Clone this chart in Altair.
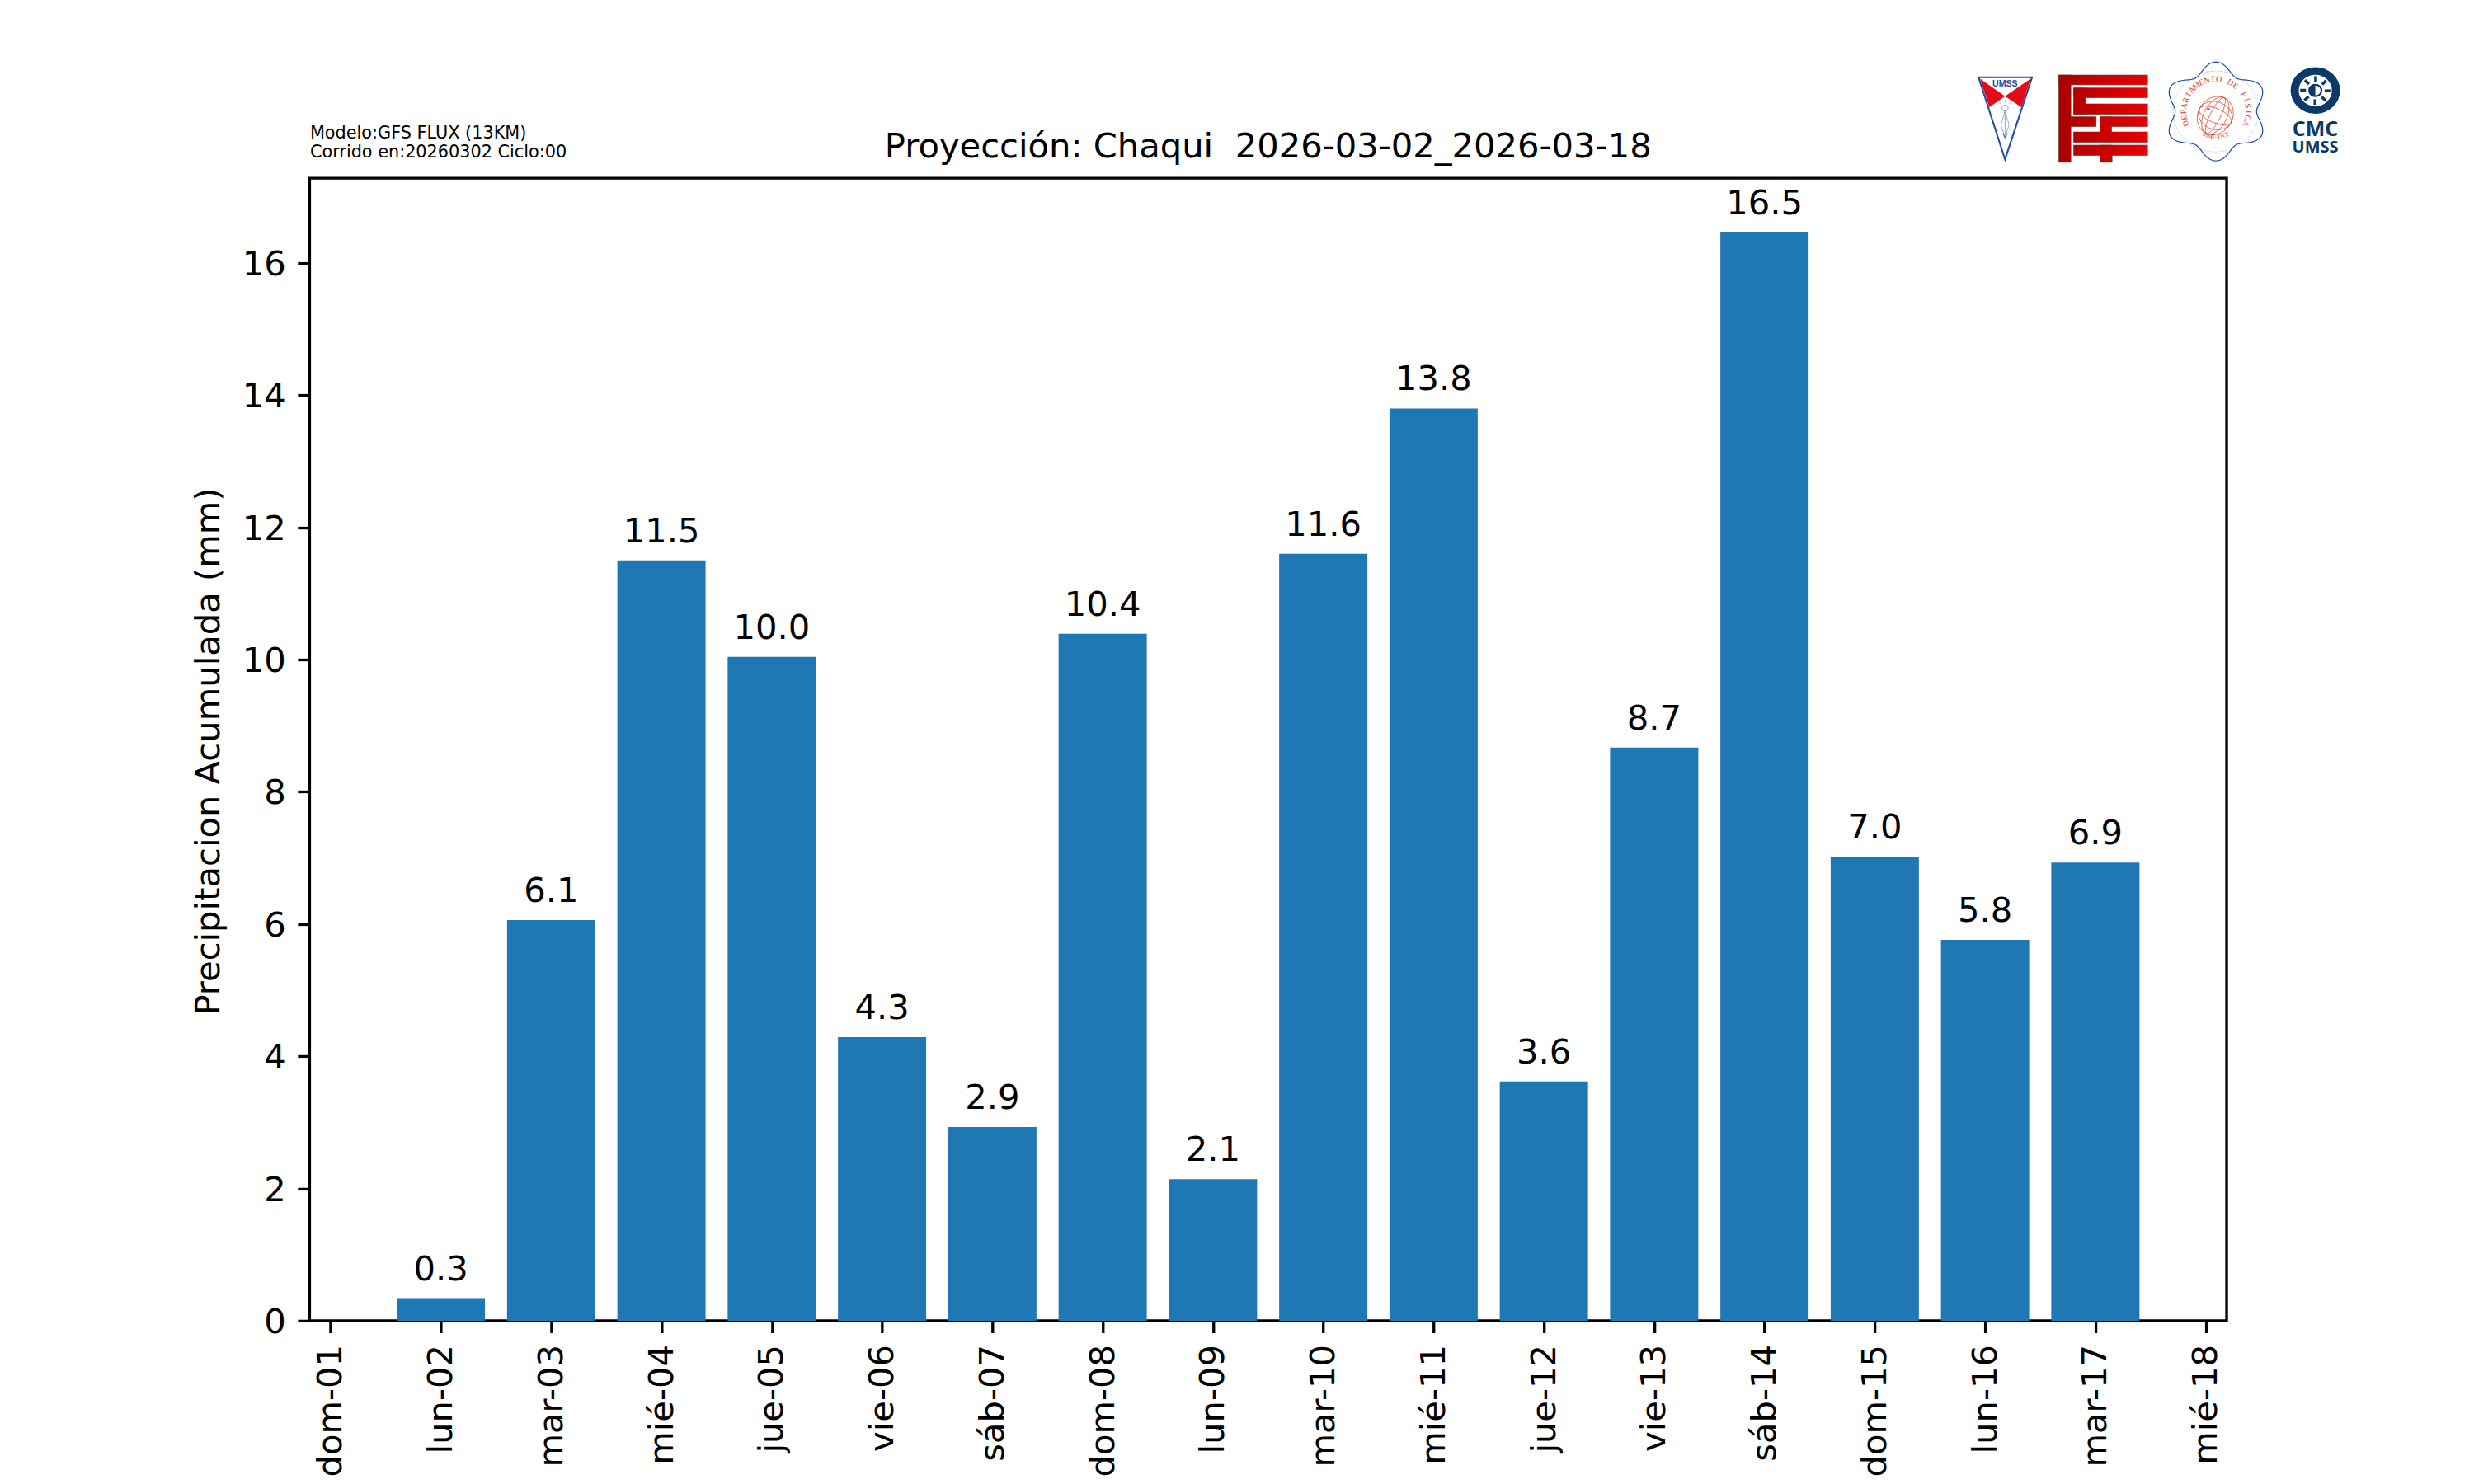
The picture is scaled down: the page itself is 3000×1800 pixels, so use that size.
import base64, json, math
import altair as alt
import pandas as pd

days = ["lun-02","mar-03","mié-04","jue-05","vie-06","sáb-07","dom-08","lun-09","mar-10","mié-11","jue-12","vie-13","sáb-14","dom-15","lun-16","mar-17"]
tick_labels = ["dom-01"] + days + ["mié-18"]
values = [0.33,6.06,11.5,10.04,4.29,2.93,10.39,2.14,11.6,13.8,3.62,8.67,16.46,7.02,5.76,6.93]
positions = list(range(1, 17))

FONT = "DejaVu Sans"
LEFT, TOP, W, H = 375.5, 216, 2325, 1386
PT10 = 41.67
LW = 3.33

df = pd.DataFrame({"pos": positions, "day": days, "value": values})
one = pd.DataFrame({"k": [0]})

x_enc = alt.X("pos:Q", scale=alt.Scale(domain=[-0.19, 17.19], nice=False, zero=False, padding=0),
    axis=alt.Axis(values=list(range(18)), title=None, grid=False, domain=False,
        labelExpr=json.dumps(tick_labels) + "[datum.value]", labelAngle=270, labelAlign="right", labelBaseline="middle",
        labelFont=FONT, labelFontSize=PT10, labelColor="black", labelPadding=14, labelOverlap=False, labelFlush=False, labelBound=False,
        tickColor="black", tickWidth=LW, tickSize=14.6))
y_enc = alt.Y("value:Q", scale=alt.Scale(domain=[0, 17.283], nice=False),
    axis=alt.Axis(values=list(range(0, 17, 2)), format="d", title="Precipitacion Acumulada (mm)", grid=False, domain=False,
        titleFont=FONT, titleFontSize=PT10, titleFontWeight="normal", titleColor="black", titleAngle=270,
        titleX=-122.5, titleY=695, titleAlign="center", titleBaseline="middle",
        labelFont=FONT, labelFontSize=PT10, labelColor="black", labelPadding=14.6, labelOffset=1.5, labelOverlap=False, labelFlush=False, labelBound=False,
        tickColor="black", tickWidth=LW, tickSize=14.6))

bars = alt.Chart(df).mark_bar(size=107, color="#1f77b4").encode(x=x_enc, y=y_enc)
labels = alt.Chart(df).mark_text(font=FONT, fontSize=PT10, color="black", baseline="alphabetic", align="center", dy=-22).encode(
    x=alt.X("pos:Q"), y=alt.Y("value:Q"), text=alt.Text("value:Q", format=".1f"))

def note(text, px, py, size, align="left", font=FONT, weight="normal", color="black", angle=0):
    m = alt.Chart(one).mark_text(text=text, font=font, fontSize=size, fontWeight=weight, color=color, align=align,
                                 baseline="alphabetic", angle=angle)
    return m.encode(x=alt.value(px - LEFT), y=alt.value(py - TOP))

def logo(svg, px, py, w, h):
    url = "data:image/svg+xml;base64," + base64.b64encode(svg.encode("utf-8")).decode()
    m = alt.Chart(one).mark_image(url=url, width=w, height=h, aspect=False, align="left", baseline="top")
    return m.encode(x=alt.value(px - LEFT), y=alt.value(py - TOP))

BLUE = "#1f4e9e"
RED = "#e30b17"
NAVY = "#0b3a66"
SVG = 'xmlns="http://www.w3.org/2000/svg" preserveAspectRatio="none"'

# UMSS shield, drawn in reference zoom units
umss = f'''<svg {SVG} viewBox="130 120 210 325" width="74" height="108.3">
<polygon points="141,131 325,131 232,430" fill="white" stroke="{BLUE}" stroke-width="6"/>
<polygon points="146,136 232,200 178,240" fill="{RED}"/>
<polygon points="320,136 232,200 288,240" fill="{RED}"/>
<g stroke="#7f9cc9" stroke-width="2.5" fill="none">
<circle cx="232" cy="243" r="11"/>
<path d="M232 254 L218 305 M232 254 L246 305 M218 305 L232 350 M246 305 L232 350 M232 254 V350"/>
<path d="M205 235 h10 M250 235 h10 M213 222 l6 6 M252 222 l-6 6 M232 214 v8"/>
<path d="M224 335 L232 352 L240 335" stroke="{BLUE}"/>
</g></svg>'''

# FCyT mark
bars_ff = [(417,123,305,35),(417,123,41,317),(468,170,254,35),(468,170,40,95),(468,228,254,37),
           (458,275,87,35),(560,275,162,35),(560,275,38,90),(468,330,254,37),(468,378,254,37),(560,378,40,62)]
rects = "".join(f'<rect x="{a}" y="{b}" width="{c}" height="{d}"/>' for a, b, c, d in bars_ff)
fcyt = f'''<svg {SVG} viewBox="412 118 315 327" width="111" height="109">
<defs><linearGradient id="g" gradientUnits="userSpaceOnUse" x1="417" x2="722" y1="0" y2="0">
<stop offset="0" stop-color="#a80000"/><stop offset="1" stop-color="#ea0000"/></linearGradient></defs>
<g fill="#777" stroke="#777" stroke-width="3">{rects}</g><g fill="url(#g)">{rects}</g></svg>'''

# Departamento de Fisica seal
cx3, cy3 = 957, 255
pts = []
for i in range(0, 144):
    t = 2 * math.pi * i / 144
    r = 160 + 20 * math.cos(6 * t)
    pts.append(f"{cx3 + r * math.sin(t):.1f},{cy3 - r * math.cos(t):.1f}")
ell = "".join(f'<ellipse cx="955" cy="270" rx="{rx}" ry="{ry}" transform="rotate(25 955 270)"/>' for rx, ry in [(60,72),(40,72),(18,72),(60,50),(60,26)])
seal = f'''<svg {SVG} viewBox="790 65 335 380" width="118.1" height="126.7">
<polygon points="{' '.join(pts)}" fill="none" stroke="{BLUE}" stroke-width="3.5"/>
<circle cx="{cx3}" cy="{cy3}" r="147" fill="none" stroke="{BLUE}" stroke-width="1.5" stroke-dasharray="2 4"/>
<g fill="none" stroke="#d8402a" stroke-width="2">{ell}</g>
<circle cx="931" cy="247" r="6" fill="#7f8fc9"/></svg>'''

# CMC emblem
dashes = "".join(f'<rect x="1295" y="127" width="10" height="20" fill="{NAVY}" transform="rotate({a} 1299 179)"/>' for a in range(0, 360, 45))
cmc = f'''<svg {SVG} viewBox="1205 85 190 190" width="67" height="63.3">
<circle cx="1299" cy="179" r="71" fill="white" stroke="{NAVY}" stroke-width="28"/>{dashes}
<circle cx="1299" cy="179" r="21" fill="white" stroke="{NAVY}" stroke-width="6"/>
<path d="M1299 158 a21 21 0 0 0 0 42 z" fill="{NAVY}"/></svg>'''

layers = [bars, labels,
    note("Proyección: Chaqui\u00a0 2026-03-02_2026-03-18", 1538, 191, 41.67, align="center"),
    note("Modelo:GFS FLUX (13KM)", 376, 168, 20.8),
    note("Corrido en:20260302 Ciclo:00", 376, 191, 20.8),
    logo(umss, 2395.8, 90, 74, 108.3), logo(fcyt, 2495.3, 89.3, 111, 109),
    logo(seal, 2628.6, 71.7, 118.1, 126.7), logo(cmc, 2774.9, 78.3, 67, 63.3),
    note("UMSS", 2431.8, 105, 10.6, align="center", font="Liberation Sans", weight="bold", color=BLUE),
    note("CMC", 2808, 165, 25, align="center", font="Open Sans", weight="bold", color=NAVY),
    note("UMSS", 2808, 185, 20, align="center", font="Open Sans", weight="bold", color=NAVY),
]

# seal lettering, one glyph at a time along its arcs (reference px)
sx, sy = 2350 + 957 / 2.836, 50 + 255 / 3
arc_top = "DEPARTAMENTO DE FÍSICA"
for i, ch in enumerate(arc_top):
    a = -112 + i * 224 / (len(arc_top) - 1)
    r = 36
    layers.append(note(ch, sx + r * math.sin(math.radians(a)), sy - r * math.cos(math.radians(a)), 10,
                       align="center", font="Liberation Serif", color="#d8402a", angle=a % 360))
arc_bottom = "FCyT-UMSS"
for i, ch in enumerate(arc_bottom):
    a = 27 - i * 54 / (len(arc_bottom) - 1)
    r = 33
    layers.append(note(ch, sx + r * math.sin(math.radians(a)), sy + r * math.cos(math.radians(a)), 7,
                       align="center", font="Liberation Serif", color="#d8402a", angle=(-a) % 360))

chart = alt.layer(*layers).properties(
    width=W, height=H,
    autosize=alt.AutoSizeParams(type="none"),
    padding={"left": LEFT - 8, "top": TOP - 8, "right": 292, "bottom": 190},
    background="white",
).configure_view(stroke="black", strokeWidth=LW)

chart.save("out.html", embed_options={"renderer": "svg", "actions": False})
